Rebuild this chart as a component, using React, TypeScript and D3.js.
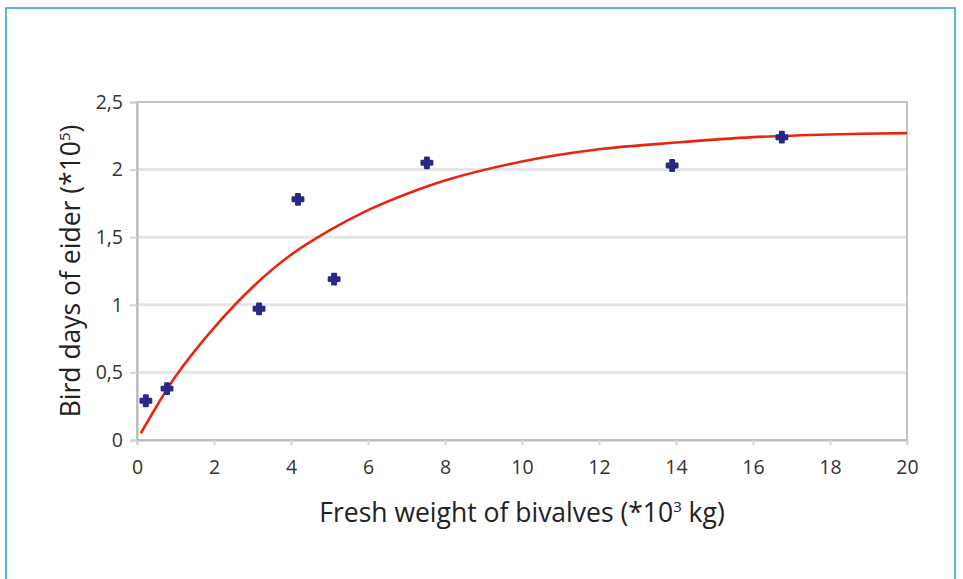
import React, { useEffect, useRef } from 'react';
import * as d3 from 'd3';

// observed points (fresh weight *10^3 kg, bird days *10^5)
const weights = [0.23, 0.78, 3.17, 4.18, 5.12, 7.53, 13.9, 16.75];
const birdDays = [0.29, 0.38, 0.97, 1.78, 1.19, 2.05, 2.03, 2.24];

// fitted trend line
const trendX = [0.1, 1, 2, 3, 4, 5, 6, 7, 8, 10, 12, 14, 16, 18, 20];
const trendY = [0.05, 0.47, 0.83, 1.13, 1.37, 1.55, 1.70, 1.82, 1.92, 2.06, 2.15, 2.20, 2.24, 2.26, 2.27];

const xTicks = [0, 2, 4, 6, 8, 10, 12, 14, 16, 18, 20];
const yTicks = [0, 0.5, 1, 1.5, 2, 2.5];

const App: React.FC = () => {
    const ref = useRef<SVGSVGElement | null>(null);

    useEffect(() => {
        if (!ref.current) return;
        const W = 963, H = 579;
        const margin = { top: 102, right: 56, bottom: 139, left: 137 };
        const width = W - margin.left - margin.right;
        const height = H - margin.top - margin.bottom;
        const font = "'Open Sans', 'DejaVu Sans', sans-serif";

        const root = d3.select(ref.current);
        root.selectAll('*').remove();

        // outer blue frame
        root.append('rect')
            .attr('x', 6).attr('y', 8)
            .attr('width', 949).attr('height', 600)
            .attr('fill', 'none')
            .attr('stroke', '#2b9ad6')
            .attr('stroke-width', 1.5);

        const x = d3.scaleLinear().domain([0, 20]).range([0, width]);
        const y = d3.scaleLinear().domain([0, 2.5]).range([height, 0]);

        const svg = root.append('g').attr('transform', `translate(${margin.left},${margin.top})`);

        // gridlines
        svg.selectAll('.grid')
            .data(yTicks.filter(t => t > 0 && t < 2.5))
            .enter()
            .append('line')
            .attr('x1', 0).attr('x2', width)
            .attr('y1', d => y(d)).attr('y2', d => y(d))
            .attr('stroke', '#e6e6e6')
            .attr('stroke-width', 3);

        // plot frame
        svg.append('rect')
            .attr('x', 0).attr('y', 0)
            .attr('width', width).attr('height', height)
            .attr('fill', 'none')
            .attr('stroke', '#c4c4c4')
            .attr('stroke-width', 2);

        // y axis
        const yAxis = svg.append('g')
            .call(d3.axisLeft(y).tickValues(yTicks).tickSize(7).tickPadding(7)
                .tickFormat(d => d3.format('')(d as number).replace('.', ',')));
        yAxis.select('.domain').attr('stroke', '#bbbbbb').attr('stroke-width', 2);
        yAxis.selectAll('.tick line').attr('stroke', '#d6d6d6').attr('stroke-width', 2);
        yAxis.selectAll('.tick text')
            .attr('font-family', font).attr('font-size', 19.5).attr('fill', '#333');

        // x axis
        const xAxis = svg.append('g')
            .attr('transform', `translate(0,${height})`)
            .call(d3.axisBottom(x).tickValues(xTicks).tickSize(5).tickPadding(15));
        xAxis.select('.domain').attr('stroke', '#bbbbbb').attr('stroke-width', 2);
        xAxis.selectAll('.tick line').attr('stroke', '#d6d6d6').attr('stroke-width', 2);
        xAxis.selectAll('.tick text')
            .attr('font-family', font).attr('font-size', 19.5).attr('fill', '#333');

        // trend curve
        const line = d3.line<number>()
            .x((_, i) => x(trendX[i]))
            .y(d => y(d))
            .curve(d3.curveCatmullRom);
        svg.append('path')
            .datum(trendY)
            .attr('d', line)
            .attr('fill', 'none')
            .attr('stroke', '#e8260f')
            .attr('stroke-width', 2.6);

        // points
        svg.selectAll('.dot')
            .data(weights)
            .enter()
            .append('path')
            .attr('class', 'dot')
            .attr('transform', (d, i) => `translate(${x(d)},${y(birdDays[i])})`)
            .attr('d', d3.symbol().type(d3.symbolCross).size(60))
            .attr('fill', '#2a2886')
            .attr('stroke', '#2a2886')
            .attr('stroke-width', 2.5)
            .attr('stroke-linejoin', 'round');

        // axis titles
        const xt = root.append('text')
            .attr('x', margin.left + width / 2)
            .attr('y', 522)
            .attr('text-anchor', 'middle')
            .attr('font-family', font)
            .attr('font-size', 26.5)
            .attr('fill', '#222');
        xt.append('tspan').text('Fresh weight of bivalves (*10');
        xt.append('tspan').attr('font-size', 15).attr('dy', -10).text('3');
        xt.append('tspan').attr('dy', 10).text(' kg)');

        const yt = root.append('text')
            .attr('transform', `translate(80,${margin.top + height / 2}) rotate(-90)`)
            .attr('text-anchor', 'middle')
            .attr('font-family', font)
            .attr('font-size', 26.5)
            .attr('fill', '#222');
        yt.append('tspan').text('Bird days of eider (*10');
        yt.append('tspan').attr('font-size', 15).attr('dy', -10).text('5');
        yt.append('tspan').attr('dy', 10).text(')');
    }, []);

    return (
        <svg ref={ref} width={963} height={579}
            style={{ position: 'absolute', left: 0, top: 0, background: '#fff' }} />
    );
};

export default App;
